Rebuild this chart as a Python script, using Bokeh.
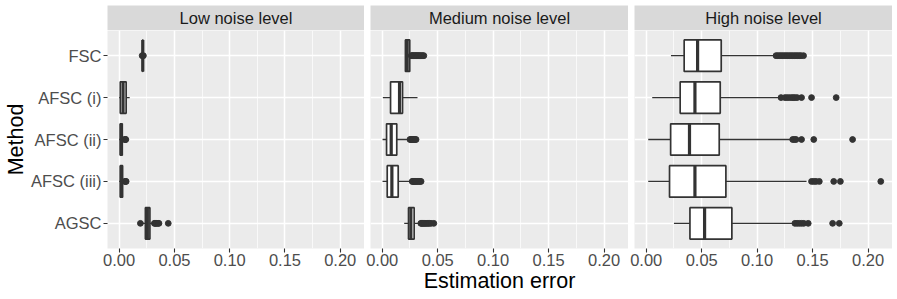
from bokeh.plotting import figure
from bokeh.layouts import row, column
from bokeh.models import (ColumnDataSource, FactorRange, Range1d, SingleIntervalTicker,
                          PrintfTickFormatter, Label)
from bokeh.embed import file_html
from bokeh.resources import INLINE

# ---------------- data ----------------
methods = ["FSC", "AFSC (i)", "AFSC (ii)", "AFSC (iii)", "AGSC"]
levels = ["Low noise level", "Medium noise level", "High noise level"]

# Low noise level
low_lower = [0.0211, 0.0000, 0.0000, 0.0000, 0.0212]
low_q1 = [0.02125, 0.0010, 0.0010, 0.0010, 0.0237]
low_median = [0.02135, 0.0035, 0.0018, 0.0020, 0.0255]
low_q3 = [0.0215, 0.0063, 0.0028, 0.0031, 0.0278]
low_upper = [0.0217, 0.0095, 0.0042, 0.0047, 0.0312]
low_outliers = [
    [0.0208, 0.0219],
    [],
    [0.0050, 0.0055, 0.0060],
    [0.0052, 0.0058, 0.0063],
    [0.0192, 0.0318, 0.0325, 0.0332, 0.0340, 0.0352, 0.0360, 0.0444],
]

# Medium noise level
med_lower = [0.0205, 0.0006, 0.0003, 0.0003, 0.0198]
med_q1 = [0.0209, 0.0075, 0.0039, 0.0045, 0.0237]
med_median = [0.0225, 0.0156, 0.0081, 0.0087, 0.0258]
med_q3 = [0.0248, 0.0183, 0.0131, 0.0144, 0.0288]
med_upper = [0.0258, 0.0318, 0.0246, 0.0267, 0.0345]
med_outliers = [
    [0.0262, 0.0268, 0.0275, 0.0282, 0.0290, 0.0298, 0.0305, 0.0312, 0.0320,
     0.0328, 0.0336, 0.0345, 0.0355, 0.0365, 0.0375],
    [],
    [0.0250, 0.0258, 0.0265, 0.0272, 0.0280, 0.0288, 0.0296, 0.0305],
    [0.0270, 0.0278, 0.0286, 0.0294, 0.0302, 0.0310, 0.0320, 0.0330, 0.0340, 0.0350],
    [0.0348, 0.0355, 0.0362, 0.0370, 0.0378, 0.0386, 0.0395, 0.0405, 0.0415,
     0.0425, 0.0440, 0.0465],
]

# High noise level
high_lower = [0.0223, 0.0054, 0.0018, 0.0018, 0.0250]
high_q1 = [0.0342, 0.0306, 0.0220, 0.0210, 0.0394]
high_median = [0.0463, 0.0439, 0.0390, 0.0439, 0.0526]
high_q3 = [0.0676, 0.0667, 0.0658, 0.0718, 0.0772]
high_upper = [0.1160, 0.1200, 0.1300, 0.1445, 0.1325]
high_outliers = [
    [0.1170, 0.1185, 0.1200, 0.1215, 0.1230, 0.1245, 0.1260, 0.1275, 0.1290,
     0.1305, 0.1320, 0.1335, 0.1350, 0.1365, 0.1380, 0.1395, 0.1418],
    [0.1215, 0.1250, 0.1270, 0.1290, 0.1310, 0.1325, 0.1340, 0.1360, 0.1400,
     0.1490, 0.1712],
    [0.1320, 0.1335, 0.1350, 0.1400, 0.1510, 0.1860],
    [0.1490, 0.1510, 0.1530, 0.1560, 0.1690, 0.1750, 0.2114],
    [0.1340, 0.1360, 0.1380, 0.1400, 0.1420, 0.1460, 0.1680, 0.1740],
]

x_axis_title = "Estimation error"
y_axis_title = "Method"

# ---------------- styling ----------------
FONT = "Liberation Sans"
PANEL_W = 258
PANEL_H = 218
STRIP_H = 25
STRIP_TOP = 5
LEFT = 106
GAP = 6
BOTTOM = 51
BOX_LINE = "#333333"
PANEL_BG = "#EBEBEB"
STRIP_BG = "#D9D9D9"

stats = [
    (low_lower, low_q1, low_median, low_q3, low_upper, low_outliers),
    (med_lower, med_q1, med_median, med_q3, med_upper, med_outliers),
    (high_lower, high_q1, high_median, high_q3, high_upper, high_outliers),
]

all_vals = []
for s in stats:
    all_vals += s[0] + s[4]
    for o in s[5]:
        all_vals += o
xmin, xmax = min(all_vals), max(all_vals)
pad = 0.05 * (xmax - xmin)
x_range = Range1d(xmin - pad, xmax + pad)
y_range = FactorRange(factors=list(reversed(methods)), range_padding=0.04,
                      range_padding_units="percent")

columns = []
for i, (level, (lo, q1, md, q3, up, outs)) in enumerate(zip(levels, stats)):
    lb = LEFT if i == 0 else GAP
    # ---- strip ----
    s = figure(width=lb + PANEL_W, height=STRIP_TOP + STRIP_H, x_range=Range1d(0, 1),
               y_range=Range1d(0, 1), output_backend="svg", toolbar_location=None,
               x_axis_location=None, y_axis_location=None,
               min_border_left=lb, min_border_right=0, min_border_top=STRIP_TOP,
               min_border_bottom=0,
               background_fill_color=STRIP_BG, border_fill_color="white", outline_line_color=None)
    s.grid.grid_line_color = None
    s.add_layout(Label(x=0.5, y=0.5, text=level, text_align="center", text_baseline="middle",
                       text_font=FONT, text_font_size="16.5px", text_color="#1A1A1A"))

    # ---- panel ----
    p = figure(width=lb + PANEL_W, height=PANEL_H + BOTTOM, x_range=x_range, y_range=y_range,
               output_backend="svg", toolbar_location=None,
               y_axis_location="left" if i == 0 else None,
               min_border_left=lb, min_border_right=0, min_border_top=0, min_border_bottom=BOTTOM,
               background_fill_color=PANEL_BG, border_fill_color="white", outline_line_color=None)

    src = ColumnDataSource(dict(
        method=methods, lower=lo, q1=q1, median=md, q3=q3, upper=up,
        m0=[(m, -0.375) for m in methods], m1=[(m, 0.375) for m in methods]))
    ox, oy = [], []
    for m, o in zip(methods, outs):
        ox += o
        oy += [m] * len(o)
    osrc = ColumnDataSource(dict(x=ox, method=oy))

    p.segment(x0="lower", y0="method", x1="q1", y1="method", source=src,
              line_color=BOX_LINE, line_width=1.4)
    p.segment(x0="q3", y0="method", x1="upper", y1="method", source=src,
              line_color=BOX_LINE, line_width=1.4)
    p.hbar(y="method", height=0.75, left="q1", right="q3", source=src,
           fill_color="white", line_color=BOX_LINE, line_width=1.7)
    p.segment(x0="median", y0="m0", x1="median", y1="m1", source=src,
              line_color=BOX_LINE, line_width=3.2)
    p.scatter(x="x", y="method", source=osrc, size=5.8, fill_color=BOX_LINE,
              line_color=BOX_LINE)

    # grids
    p.xgrid.grid_line_color = "white"
    p.xgrid.grid_line_width = 1.5
    p.xgrid.minor_grid_line_color = "white"
    p.xgrid.minor_grid_line_width = 0.7
    p.ygrid.grid_line_color = "white"
    p.ygrid.grid_line_width = 1.5

    # x axis
    xa = p.xaxis[0]
    xa.ticker = SingleIntervalTicker(interval=0.05, num_minor_ticks=2)
    xa.formatter = PrintfTickFormatter(format="%.2f")
    xa.axis_line_color = None
    xa.major_tick_line_color = BOX_LINE
    xa.major_tick_line_width = 1.1
    xa.major_tick_out = 4
    xa.major_tick_in = 0
    xa.minor_tick_line_color = None
    xa.major_label_standoff = 1
    xa.major_label_text_font = FONT
    xa.major_label_text_font_size = "16.5px"
    xa.major_label_text_color = "#4D4D4D"

    if i == 1:
        xa.axis_label = x_axis_title
        xa.axis_label_standoff = 0
        xa.axis_label_text_font = FONT
        xa.axis_label_text_font_size = "21.5px"
        xa.axis_label_text_font_style = "normal"
        xa.axis_label_text_color = "black"

    if i == 0:
        ya = p.yaxis[0]
        ya.axis_line_color = None
        ya.major_tick_line_color = BOX_LINE
        ya.major_tick_line_width = 1.1
        ya.major_tick_out = 4
        ya.major_tick_in = 0
        ya.minor_tick_line_color = None
        ya.major_label_standoff = 2
        ya.major_label_text_font = FONT
        ya.major_label_text_font_size = "16.5px"
        ya.major_label_text_color = "#4D4D4D"
        ya.axis_label = y_axis_title
        ya.axis_label_standoff = 0
        ya.axis_label_text_font = FONT
        ya.axis_label_text_font_size = "21.5px"
        ya.axis_label_text_font_style = "normal"
        ya.axis_label_text_color = "black"

    columns.append(column(s, p))

layout = row(*columns)

open("out.html", "w").write(file_html(layout, INLINE))
